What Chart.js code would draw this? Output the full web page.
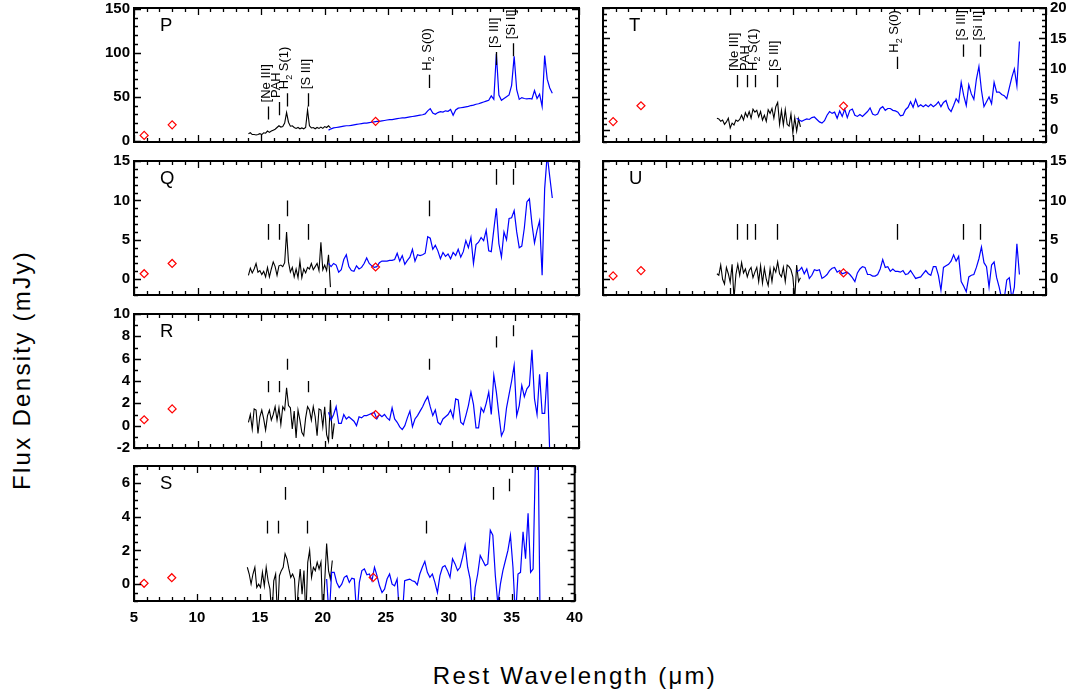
<!DOCTYPE html>
<html>
<head>
<meta charset="utf-8">
<script src="https://cdn.jsdelivr.net/npm/chart.js@4.4.0/dist/chart.umd.min.js"></script>
<style>
  body { margin: 0; background: #fff; }
  #fig { position: relative; width: 1076px; height: 698px; background: #fff; overflow: hidden; }
  #fig canvas { position: absolute; }
  .title { position: absolute; font-family: 'Liberation Sans', Arial, sans-serif; font-size: 24px;
           letter-spacing: 2.3px; color: #000; white-space: nowrap; }
  #xtitle { left: 575px; top: 676px; transform: translate(-50%, -50%); }
  #ytitle { left: 22px; top: 370px; transform: translate(-50%, -50%) rotate(-90deg); }
</style>
</head>
<body>
<div id="fig">
  <div class="title" id="xtitle">Rest Wavelength (μm)</div>
  <div class="title" id="ytitle">Flux Density (mJy)</div>
</div>
<script>
// wavelength grids (micron)
const blackX = [14.00, 14.15, 14.30, 14.45, 14.60, 14.75, 14.90, 15.05, 15.20, 15.35,
  15.50, 15.65, 15.80, 15.95, 16.10, 16.25, 16.40, 16.55, 16.70, 16.85,
  17.00, 17.15, 17.30, 17.45, 17.60, 17.75, 17.90, 18.05, 18.20, 18.35,
  18.50, 18.65, 18.80, 18.95, 19.10, 19.25, 19.40, 19.55, 19.70, 19.85,
  20.00, 20.15, 20.30, 20.45, 20.60, 20.75];
const blueX = [20.3, 20.5, 20.7, 20.9, 21.1, 21.3, 21.5, 21.7, 21.9, 22.1,
  22.3, 22.5, 22.7, 22.9, 23.1, 23.3, 23.5, 23.7, 23.9, 24.1,
  24.3, 24.5, 24.7, 24.9, 25.1, 25.3, 25.5, 25.7, 25.9, 26.1,
  26.3, 26.5, 26.7, 26.9, 27.1, 27.3, 27.5, 27.7, 27.9, 28.1,
  28.3, 28.5, 28.7, 28.9, 29.1, 29.3, 29.5, 29.7, 29.9, 30.1,
  30.3, 30.5, 30.7, 30.9, 31.1, 31.3, 31.5, 31.7, 31.9, 32.1,
  32.3, 32.5, 32.7, 32.9, 33.1, 33.3, 33.5, 33.7, 33.9, 34.1,
  34.3, 34.5, 34.7, 34.9, 35.1, 35.3, 35.5, 35.7, 35.9, 36.1,
  36.3, 36.5, 36.7, 36.9, 37.1, 37.3, 37.5, 37.7, 37.9];
const photX = [5.8, 8.0, 24.0];

// emission line positions and names
const lineX = [15.56, 16.4, 17.03, 18.71, 28.22, 33.48, 34.82];
const lineNames = ['[Ne III]', 'PAH', 'H2 S(1)', '[S III]', 'H2 S(0)', '[S III]', '[Si II]'];

// panel P
const blackP = [8, 9, 7, 7, 6.5, 7, 8, 7, 9, 8.5,
  11, 9.5, 11, 12, 13, 15, 17, 15.5, 16, 20,
  32, 21, 16.5, 17, 15, 14, 15, 13.5, 14.5, 13.5,
  15, 35, 17, 14.5, 15, 13.5, 15, 14, 15.5, 14,
  16, 15, 17, 14.5];
const blueP = [12, 13.5, 14.5, 15, 15.5, 16, 16.5, 17, 17, 17.5,
  18, 18.5, 19, 19.5, 20, 20, 20.5, 21, 21.5, 22,
  22, 22.5, 23, 23.5, 24, 24, 24.5, 25, 25.5, 26,
  26, 26.5, 27, 27.5, 28, 28.5, 29, 29.5, 30.5, 34,
  36.5, 31.5, 30, 32, 33, 32.5, 34, 33.5, 35.5, 29,
  35, 37, 37.5, 38, 38.5, 39, 40, 40.5, 41.5, 42,
  43, 44, 45, 46, 51, 47, 99, 52, 46, 48,
  50, 52, 63, 96, 58, 47, 49, 48, 47.5, 48,
  47.5, 57, 48, 53, 39, 97, 70, 60, 54];
const photP = [6, 18, 22];
const markLoP = [24, 29, 39, 39, 60, 86, 96];
const markHiP = [39, 44, 54, 54, 75, 101, 111];

// panel Q
const blackQ = [0.5, 1.4, 0.8, 1.3, 2.0, 0.9, 1.1, 0.6, 1.0, 0.3,
  1.5, 0.3, 1.3, 2.2, 1.6, 0.5, 1.7, 1.8, 1.6, 2.1,
  6.0, 2.2, 0.9, 1.5, 0.3, 1.3, 0.2, 2.3, 0.2, 1.3,
  0.8, 1.5, 1.3, 2.0, 1.2, 1.6, 2.0, 1.1, 4.7, 1.2,
  1.8, 1.1, 3.1, -1.0];
const blueQ = [2.0, 1.6, 2.0, 1.8, 0.9, 1.2, 2.5, 3.1, 1.6, 1.1,
  1.0, 1.7, 1.3, 1.5, 2.0, 2.7, 2.0, 1.7, 1.5, 1.6,
  2.1, 2.3, 2.3, 2.3, 2.4, 2.4, 2.5, 3.3, 2.3, 3.0,
  1.9, 2.4, 2.8, 3.8, 2.3, 3.1, 3.0, 3.1, 3.3, 5.4,
  5.2, 3.8, 4.3, 3.6, 2.6, 3.4, 2.9, 3.2, 2.6, 3.4,
  3.0, 3.8, 2.8, 3.5, 4.9, 4.0, 5.3, 2.0, 4.4, 4.7,
  5.3, 4.9, 6.2, 3.6, 3.5, 6.3, 9.0, 4.5, 2.8, 6.0,
  5.0, 7.7, 7.8, 8.7, 6.0, 4.0, 4.2, 6.5, 9.8, 10.2,
  7.0, 4.6, 6.2, 7.4, 0.5, 11.5, 15.8, 13.0, 10.3];
const photQ = [0.7, 2.0, 1.55];
const markLoQ = [5, 5, 8, 5, 8, 12, 12];
const markHiQ = [7, 7, 10, 7, 10, 14, 14];

// panel R
const blackR = [0.3, 1.0, -0.3, 1.5, 1.4, -0.7, 0.8, 1.4, 0.6, -0.4,
  0.9, 1.4, 0.5, 1.0, 1.7, 0.5, 1.6, 0.1, 1.7, 1.4,
  3.4, 1.8, 1.6, -0.3, 1.3, -1.1, 1.4, 0.5, -0.6, -0.9,
  0.7, 1.7, 1.4, 0.5, 1.7, 0.8, -0.9, 1.5, 1.4, -0.1,
  1.7, -0.8, -1.4, 2.3, -1.2, 0.2];
const blueR = [1.2, 0.5, 1.0, 1.7, 0.2, 0.2, 1.0, 0.6, 0.8, 0.6,
  0.4, 0.0, 0.8, 0.7, 0.9, 0.9, 1.0, 1.1, 1.2, 0.6,
  1.0, 0.8, 1.0, 0.7, 0.5, 1.6, 0.6, 0.3, -0.1, -0.35,
  0.0, 0.7, 1.3, -0.1, 0.6, 0.9, 1.3, 1.7, 2.2, 2.6,
  1.7, 0.9, 1.4, 0.3, 0.1, 0.6, 0.8, 1.0, 1.4, 0.7,
  2.4, 2.3, 0.3, 0.1, 0.9, 1.8, 3.0, 1.9, -0.2, -0.2,
  1.6, 1.2, 2.0, 3.0, 1.0, 4.5, 3.0, 1.0, -0.9, -0.4,
  1.6, 2.8, 4.0, 5.4, 0.9, 1.8, 3.6, 2.6, 3.3, 3.6,
  6.8, 2.4, 1.0, 4.6, 1.1, 1.1, 4.8, -2.5];
const photR = [0.53, 1.5, 1.0];
const markLoR = [3, 3, 5, 3, 5, 7, 8];
const markHiR = [4, 4, 6, 4, 6, 8, 9];

// panel S
const blackS = [1.0, 0.6, 0.0, 0.6, 1.0, -0.2, 0.0, -0.2, 0.7, -0.1,
  1.0, 0.2, -0.3, -2.0, 0.2, 0.6, -2.0, 0.5, 0.8, 1.0,
  1.8, 1.5, 0.9, 0.4, 0.6, 0.3, -2.0, -0.2, 0.9, -0.6,
  0.8, -2.0, 1.3, 2.0, 0.4, 1.0, 0.8, 1.3, 0.9, 1.3,
  -2.0, 0.2, 2.4, 0.8, 0.3, 1.4];
const blueS = [0.3, -2.0, 0.7, 0.7, 0.1, -0.2, 0.0, 0.4, 0.5, 0.1,
  0.35, 0.3, -2.0, 0.1, 0.8, 0.9, 0.55, 0.6, 0.2, 1.0,
  0.5, -0.1, -0.5, -0.3, 0.3, 0.6, 0.0, -0.1, 0.3, -2.0,
  -2.0, 0.2, 0.25, 0.3, 0.2, 0.15, -0.05, 0.6, 1.0, 1.35,
  0.7, 0.4, 0.6, 0.1, -0.5, 0.5, 1.0, 1.1, 0.8, 0.4,
  1.5, 1.2, 0.8, 1.0, 1.6, 2.3, 1.0, 0.3, -2.0, -0.2,
  0.6, 1.7, 1.4, 1.1, 1.2, 3.2, 2.9, 0.5, -1.2, 0.0,
  0.8, 1.4, 2.0, 2.9, 1.0, -2.0, 0.6, 0.7, 3.1, 1.5,
  4.2, 0.7, 0.9, 8.0, 8.0, -5.0];
const photS = [0.05, 0.38, 0.4];
const markLoS = [3, 3, 5, 3, 3, 5, 5.5];
const markHiS = [3.75, 3.75, 5.75, 3.75, 3.75, 5.75, 6.25];

// panel T
const blackT = [1.9, 1.8, 1.4, 1.6, 0.9, 1.3, 1.9, 0.3, 1.1, 0.8,
  1.6, 1.4, 1.7, 2.4, 1.6, 2.8, 2.1, 3.0, 1.9, 3.4,
  2.9, 3.2, 2.1, 3.0, 1.6, 2.4, 1.4, 3.3, 2.7, 3.5,
  1.9, 3.8, 4.5, 0.9, 3.2, 0.8, 3.3, 0.9, 0.6, 2.6,
  -0.5, 2.0, -0.2, 1.8, 0.5];
const blueT = [1.9, 1.6, 1.4, 1.6, 1.8, 1.7, 2.0, 2.1, 1.7, 1.3,
  1.1, 1.5, 2.4, 3.0, 2.7, 2.9, 1.9, 3.1, 2.2, 3.4,
  2.0, 3.2, 3.4, 2.4, 2.2, 2.5, 2.2, 2.6, 3.0, 3.6,
  2.6, 2.4, 2.6, 3.5, 3.8, 3.2, 3.5, 3.5, 3.2, 3.1,
  2.9, 2.3, 2.4, 3.3, 3.7, 4.6, 3.7, 5.0, 3.8, 4.1,
  3.8, 4.1, 3.8, 4.2, 3.8, 4.1, 4.6, 3.8, 4.5, 4.8,
  3.5, 3.0, 4.0, 5.1, 4.5, 7.8, 5.6, 4.0, 7.4, 5.9,
  5.0, 8.3, 10.4, 6.5, 3.8, 4.6, 5.4, 4.3, 7.8, 6.2,
  6.2, 5.8, 5.6, 5.1, 6.9, 8.6, 10.0, 7.2, 14.5];
const photT = [1.35, 3.95, 3.9];
const markLoT = [7, 7, 7, 7, 10, 12, 12];
const markHiT = [9, 9, 9, 9, 12, 14, 14];

// panel U
const blackU = [0.7, 0.5, 1.8, 0.0, -0.6, 1.5, 0.7, -0.4, 1.9, -2.5,
  0.6, 1.9, 0.5, 2.1, 0.8, 1.3, 0.3, 1.1, 1.5, 0.2,
  0.9, 1.5, -0.3, 1.7, -0.5, 1.4, 0.0, -0.8, 1.3, -0.3,
  1.5, 0.9, 2.2, 0.7, 0.3, 1.5, -0.3, 1.8, 1.6, 1.2,
  0.3, -2.5, 1.8, -0.3, 0.2];
const blueU = [1.0, 1.1, 1.5, 0.7, 1.3, 0.1, 0.5, 1.2, 1.1, 1.2,
  0.1, 0.3, 0.6, 1.1, 1.4, 1.5, 0.9, 1.1, 0.7, 0.8,
  0.9, 0.6, 0.2, -0.3, 0.8, 1.3, 1.6, 1.5, 0.6, 0.6,
  0.4, 0.4, 0.6, 1.3, 2.5, 1.5, 1.6, 1.0, 1.3, 1.0,
  1.0, 0.9, 1.1, 0.6, 0.7, 1.1, 0.6, 0.1, 0.2, 0.3,
  0.7, 1.1, 0.7, 0.5, 1.6, 1.6, 0.5, -1.4, 1.5, 1.7,
  1.9, 2.3, 3.1, 2.3, 2.9, -0.3, -0.9, -1.6, 0.3, 0.5,
  0.6, 1.5, 2.6, 4.1, 2.1, 1.6, -1.0, 1.8, 2.2, 0.2,
  -1.0, -2.5, -2.5, -0.1, 0.2, -2.5, -1.0, 4.5, 0.6];
const photU = [0.42, 1.1, 0.8];
const markLoU = [5, 5, 5, 5, 5, 5, 5];
const markHiU = [7, 7, 7, 7, 7, 7, 7];

// tick labels
const xTicks = [5, 10, 15, 20, 25, 30, 35, 40];
const yTicksP = [0, 50, 100, 150];
const yTicksQ = [0, 5, 10, 15];
const yTicksR = [-2, 0, 2, 4, 6, 8, 10];
const yTicksS = [0, 2, 4, 6];
const yTicksT = [0, 5, 10, 15, 20];
const yTicksU = [0, 5, 10, 15];

Chart.defaults.font.family = "'Liberation Sans', Arial, sans-serif";
Chart.defaults.color = '#000';

// page layout of the plot frames
const colLeft = [134, 603], colRight = [579, 1046];
const rowTop = [7, 160, 313, 465];
const plotH = 136;

const panels = [
  {name: 'P', col: 0, row: 0, yMin: -1.5, yMax: 151, yTicks: yTicksP, yMinor: 10, black: blackP, blue: blueP, phot: photP, lo: markLoP, hi: markHiP, names: true},
  {name: 'Q', col: 0, row: 1, yMin: -2, yMax: 15, yTicks: yTicksQ, yMinor: 1, black: blackQ, blue: blueQ, phot: photQ, lo: markLoQ, hi: markHiQ},
  {name: 'R', col: 0, row: 2, yMin: -2, yMax: 10, yTicks: yTicksR, yMinor: 1, black: blackR, blue: blueR, phot: photR, lo: markLoR, hi: markHiR},
  {name: 'S', col: 0, row: 3, yMin: -1, yMax: 7, yTicks: yTicksS, yMinor: 0.5, black: blackS, blue: blueS, phot: photS, lo: markLoS, hi: markHiS, xLabels: true},
  {name: 'T', col: 1, row: 0, yMin: -2, yMax: 20, yTicks: yTicksT, yMinor: 1, black: blackT, blue: blueT, phot: photT, lo: markLoT, hi: markHiT, names: true},
  {name: 'U', col: 1, row: 1, yMin: -2, yMax: 15, yTicks: yTicksU, yMinor: 1, black: blackU, blue: blueU, phot: photU, lo: markLoU, hi: markHiU}
];

function pts(xs, ys) {
  return ys.map((y, i) => ({x: xs[i], y: y}));
}

function drawName(ctx, name, x, y) {
  ctx.save();
  ctx.translate(x, y);
  ctx.rotate(-Math.PI / 2);
  ctx.textAlign = 'left';
  ctx.textBaseline = 'alphabetic';
  ctx.fillStyle = '#000';
  const f = "13px 'Liberation Sans', Arial, sans-serif";
  ctx.font = f;
  if (name.startsWith('H2')) {
    ctx.fillText('H', 0, 0);
    let w = ctx.measureText('H').width;
    ctx.font = "9px 'Liberation Sans', Arial, sans-serif";
    ctx.fillText('2', w, 3.5);
    w += ctx.measureText('2').width;
    ctx.font = f;
    ctx.fillText(name.slice(2), w, 0);
  } else {
    ctx.fillText(name, 0, 0);
  }
  ctx.restore();
}

// IDL style box: inward ticks on all four sides, line markers, panel letter
const idlFrame = {
  id: 'idlFrame',
  afterDatasetsDraw(chart, args, o) {
    const {ctx, chartArea: a, scales: {x, y}} = chart;
    ctx.save();
    ctx.strokeStyle = '#000';
    ctx.lineWidth = 1.3;
    ctx.beginPath();
    const n1 = Math.ceil(x.min - 1e-9);
    for (let k = n1; k <= x.max + 1e-9; k++) {
      const px = Math.round(x.getPixelForValue(k)) + 0.5;
      const len = (k % 5 === 0) ? 7 : 4;
      ctx.moveTo(px, a.bottom); ctx.lineTo(px, a.bottom - len);
      ctx.moveTo(px, a.top); ctx.lineTo(px, a.top + len);
    }
    const m1 = Math.ceil(y.min / o.minor - 1e-9);
    for (let k = m1; k * o.minor <= y.max + 1e-9; k++) {
      const v = k * o.minor;
      const py = Math.round(y.getPixelForValue(v)) + 0.5;
      const len = o.major.includes(Math.round(v * 100) / 100) ? 7 : 4;
      ctx.moveTo(a.left, py); ctx.lineTo(a.left + len, py);
      ctx.moveTo(a.right, py); ctx.lineTo(a.right - len, py);
    }
    ctx.stroke();

    // emission line markers
    ctx.beginPath();
    lineX.forEach((lx, i) => {
      const px = Math.round(x.getPixelForValue(lx)) + 0.5;
      ctx.moveTo(px, y.getPixelForValue(o.lo[i]));
      ctx.lineTo(px, y.getPixelForValue(o.hi[i]));
    });
    ctx.stroke();
    if (o.names) {
      lineX.forEach((lx, i) => {
        drawName(ctx, lineNames[i], x.getPixelForValue(lx) + 1.5, y.getPixelForValue(o.hi[i]) - 4);
      });
    }

    // box
    ctx.lineWidth = 2;
    ctx.strokeRect(a.left, a.top, a.right - a.left, a.bottom - a.top);

    // panel letter
    ctx.fillStyle = '#000';
    ctx.font = "18.5px 'Liberation Sans', Arial, sans-serif";
    ctx.textAlign = 'left';
    ctx.textBaseline = 'alphabetic';
    ctx.fillText(o.letter, a.left + 26, a.top + 23);
    ctx.restore();
  }
};

const fig = document.getElementById('fig');

panels.forEach(p => {
  const left = p.col === 0;
  const yW = left ? 60 : 44;
  const padL = left ? 0 : 12, padR = left ? 12 : 0, padT = 12;
  const xH = p.xLabels ? 32 : 12;
  const w = colRight[p.col] - colLeft[p.col];
  const cv = document.createElement('canvas');
  cv.width = yW + w + padL + padR;
  cv.height = padT + plotH + xH;
  cv.style.left = (left ? colLeft[p.col] - yW : colLeft[p.col] - padL) + 'px';
  cv.style.top = (rowTop[p.row] - padT) + 'px';
  cv.style.width = cv.width + 'px';
  cv.style.height = cv.height + 'px';
  fig.appendChild(cv);

  new Chart(cv.getContext('2d'), {
    type: 'line',
    data: {
      datasets: [
        {
          type: 'scatter',
          data: pts(photX, p.phot),
          showLine: false,
          pointStyle: 'rectRot',
          pointRadius: 4,
          pointBorderColor: '#ff0000',
          pointBackgroundColor: 'rgba(0,0,0,0)',
          pointBorderWidth: 1.2
        },
        {
          data: pts(blueX, p.blue),
          borderColor: '#0000ff',
          borderWidth: 1.2,
          pointRadius: 0,
          tension: 0
        },
        {
          data: pts(blackX, p.black),
          borderColor: '#000000',
          borderWidth: 1.1,
          pointRadius: 0,
          tension: 0
        }
      ]
    },
    options: {
      responsive: false,
      animation: false,
      devicePixelRatio: 1,
      events: [],
      layout: {padding: {left: padL, right: padR, top: padT, bottom: 0}},
      scales: {
        x: {
          type: 'linear',
          min: 5,
          max: 40,
          grid: {display: false, drawTicks: false},
          border: {display: false},
          ticks: {
            display: !!p.xLabels,
            padding: 8,
            maxRotation: 0,
            autoSkip: false,
            font: {size: 15, weight: 'bold'}
          },
          afterBuildTicks: s => { s.ticks = xTicks.map(v => ({value: v})); },
          afterFit: s => { s.height = xH; }
        },
        y: {
          type: 'linear',
          position: left ? 'left' : 'right',
          min: p.yMin,
          max: p.yMax,
          grid: {display: false, drawTicks: false},
          border: {display: false},
          ticks: {padding: 4, font: {size: 15, weight: 'bold'}},
          afterBuildTicks: s => { s.ticks = p.yTicks.map(v => ({value: v})); },
          afterFit: s => { s.width = yW; }
        }
      },
      plugins: {
        legend: {display: false},
        tooltip: {enabled: false},
        idlFrame: {
          letter: p.name,
          minor: p.yMinor,
          major: p.yTicks,
          lo: p.lo,
          hi: p.hi,
          names: !!p.names
        }
      }
    },
    plugins: [idlFrame]
  });
});
</script>
</body>
</html>
